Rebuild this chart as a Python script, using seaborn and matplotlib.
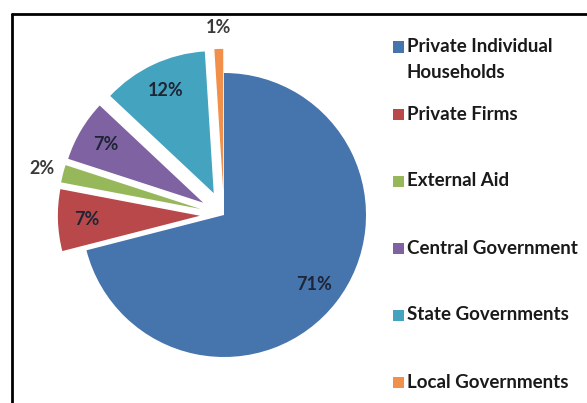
import matplotlib
matplotlib.use("Agg")
import matplotlib.pyplot as plt
import seaborn as sns
import numpy as np
from matplotlib.patches import Rectangle
from matplotlib.lines import Line2D

categories = ["Private Individual\nHouseholds", "Private Firms", "External Aid",
              "Central Government", "State Governments", "Local Governments"]
shares = [71, 7, 2, 7, 12, 1]
colors = ["#4674ad", "#b8484a", "#97b85a", "#7e62a1", "#44a3bf", "#f0904a"]

sns.set_theme(style="white")
plt.rcParams["font.family"] = ["Lato", "DejaVu Sans"]

W, H = 587, 403
fig = plt.figure(figsize=(W / 100, H / 100), dpi=100)
fig.patch.set_facecolor("white")

# pie axes: centre (224, 215) px, radius 142 px
lim = 1.35
r_px = 142
size = 2 * lim * r_px
cx, cy = 224, 215
ax = fig.add_axes([(cx - size / 2) / W, (H - cy - size / 2) / H, size / W, size / H])
ax.set_xlim(-lim, lim)
ax.set_ylim(-lim, lim)
ax.set_axis_off()

explode = [0 if i == 0 else 0.17 for i in range(len(shares))]
wedges, texts, autotexts = ax.pie(
    shares, colors=colors, explode=explode, startangle=90, counterclock=False,
    autopct=lambda p: f"{p:.0f}%", pctdistance=0.8,
    wedgeprops=dict(linewidth=0), textprops=dict(fontsize=13, fontweight="bold"),
)
for w, t, v in zip(wedges, autotexts, shares):
    ang = np.deg2rad((w.theta1 + w.theta2) / 2)
    ccx, ccy = w.center
    if v < 3:
        d = 1.15
        t.set_color("#3a3a3a")
    else:
        d = 0.8
        t.set_color("#1e2535")
    t.set_position((ccx + d * np.cos(ang), ccy + d * np.sin(ang)))
ax.set_xlim(-lim, lim)
ax.set_ylim(-lim, lim)

# outer frame (left and top visible)
fig.add_artist(Line2D([12 / W, 12 / W], [0, 1 - 14 / H], transform=fig.transFigure,
                      color="black", linewidth=2))
fig.add_artist(Line2D([12 / W, 1], [1 - 14 / H, 1 - 14 / H], transform=fig.transFigure,
                      color="black", linewidth=2))

# legend
y0, step = 47, 67
for i, (lab, col) in enumerate(zip(categories, colors)):
    y = y0 + i * step
    fig.add_artist(Rectangle((393 / W, 1 - (y + 5.5) / H), 11 / W, 11 / H,
                             transform=fig.transFigure, facecolor=col, edgecolor="none"))
    for j, line in enumerate(lab.split("\n")):
        fig.text(407 / W, 1 - (y + j * 25) / H, line, va="center", ha="left",
                 fontsize=13.5, fontweight="bold", color="#1a1a1a")

fig.savefig("out.png", dpi=100, facecolor="white")
